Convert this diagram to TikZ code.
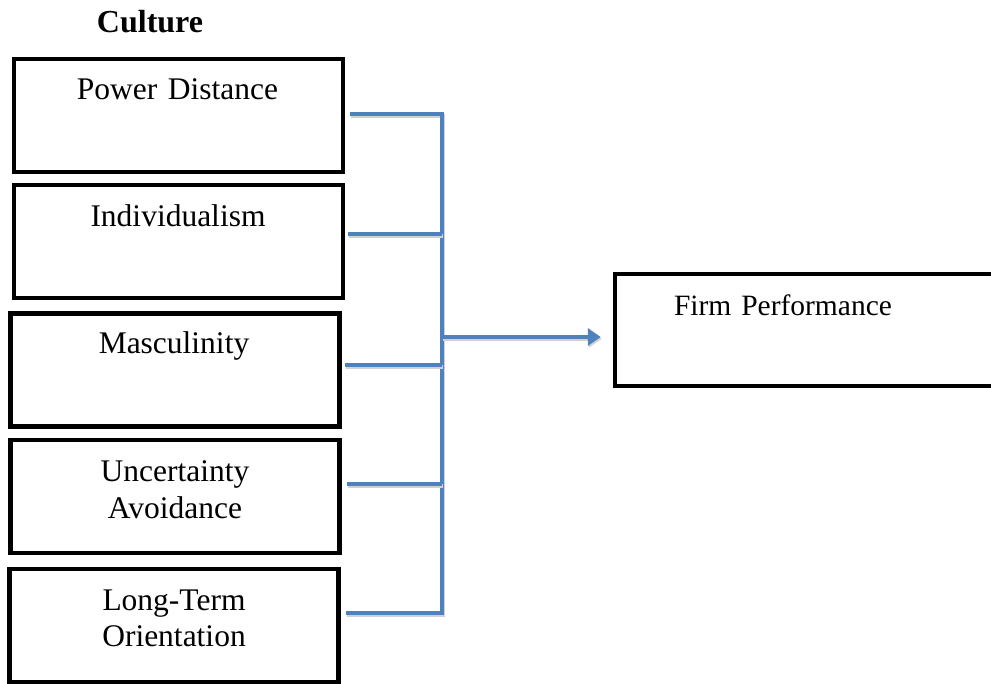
\documentclass[tikz,border=0pt]{standalone}
\usepackage{fontspec}
\setmainfont{Liberation Serif}
\usepackage{xcolor}
\definecolor{linkblue}{RGB}{79,129,189}
\usetikzlibrary{arrows.meta, positioning, calc}

\begin{document}
\begin{tikzpicture}[
        x=1pt, y=-1pt,
        box/.style={rectangle, draw=black, line width=4.5pt, inner sep=0pt, minimum width=329pt, minimum height=113pt},
        lbl/.style={anchor=base, align=center, inner sep=0pt, text width=320pt, font=\fontsize{31.5}{36}\selectfont},
        link/.style={draw=linkblue, line width=3.8pt,
            preaction={draw=black!18, line width=3.8pt, transform canvas={shift={(1pt,-1.8pt)}}}}
    ]
        \useasboundingbox (0,0) rectangle (991,684);

        \node[anchor=base, inner sep=0pt, font=\fontsize{32}{36}\selectfont\bfseries] (culture) at (150,33) {Culture};

        % cultural dimensions
        \node[box] (pd) at (178.5,115.5) {};
        \node[box] (ind) at (178.5,241.5) {};
        \node[box] (mas) at (175,370) {};
        \node[box] (ua) at (175,496.5) {};
        \node[box] (lto) at (174,625.5) {};

        \node[lbl] (pdtxt) at (177.5,100) {Power Distance};
        \node[lbl] (indtxt) at (178,227) {Individualism};
        \node[lbl] (mastxt) at (174,354) {Masculinity};
        \node[lbl] (uatxt) at (175,482) {Uncertainty\\Avoidance};
        \node[lbl] (ltotxt) at (174,610) {Long-Term\\Orientation};

        % outcome
        \node[box, minimum width=395pt, minimum height=112pt] (fp) at (812.5,330) {};
        \node[lbl, font=\fontsize{29.5}{36}\selectfont] (fptxt) at (783,316) {Firm Performance};

        % junctions on the bus
        \coordinate (j1) at (442,114);
        \coordinate (j2) at (442,234);
        \coordinate (j3) at (442,365);
        \coordinate (j4) at (442,484);
        \coordinate (j5) at (442,613);
        \coordinate (jout) at (442,337);

        \draw[link] ([xshift=5pt]pd.east |- j1) -- (j1) -- (j5) -- ([xshift=5pt]lto.east |- j5);
        \draw[link] ([xshift=3pt]ind.east |- j2) -- (j2);
        \draw[link] ([xshift=3pt]mas.east |- j3) -- (j3);
        \draw[link] ([xshift=5pt]ua.east |- j4) -- (j4);
        \draw[link, -{Triangle[length=13pt, width=17pt]}, shorten >=12pt] (jout) -- (jout -| fp.west);
    \end{tikzpicture}
\end{document}
